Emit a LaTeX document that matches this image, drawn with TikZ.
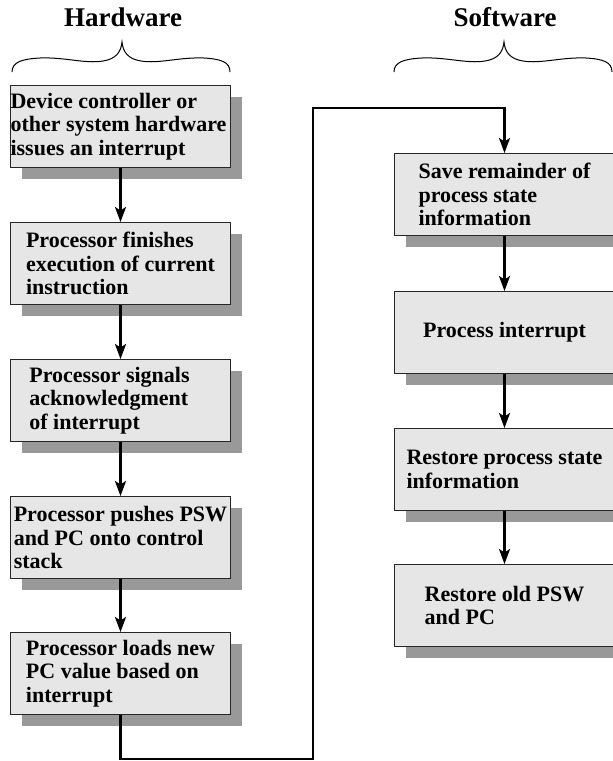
\documentclass[tikz,border=0pt]{standalone}
\usepackage{fontspec}
\setmainfont{Liberation Serif}
\usetikzlibrary{arrows.meta,shadows}
\definecolor{boxfill}{HTML}{E6E6E6}
\definecolor{shadowgray}{HTML}{999999}
\begin{document}
\begin{tikzpicture}[x=1pt,y=-1pt,
  box/.style={draw=black!85, line width=1pt, fill=boxfill, minimum width=220pt,
    minimum height=82pt, inner sep=0pt, anchor=north west,
    general shadow={fill=shadowgray, draw=none, shadow xshift=11pt, shadow yshift=-11pt}},
  txt/.style={font=\bfseries\fontsize{22}{23.5}\selectfont, align=left, inner sep=0pt},
  title/.style={font=\bfseries\fontsize{27}{30}\selectfont, inner sep=0pt},
  conn/.style={line width=2.4pt, -{Stealth[length=15pt,width=11pt,inset=3.5pt]}},
  bracestyle/.style={line width=1pt}]
\useasboundingbox (0,0) rectangle (613,761);

% titles
\node[title] (hw) at (123,17) {Hardware};
\node[title] (sw) at (505,17) {Software};

% braces
\draw[bracestyle] (12,72) .. controls (12,62) and (22,59) .. (40,58)
  .. controls (65,57) and (85,64) .. (103,61)
  .. controls (116,59) and (121,52) .. (122,42)
  .. controls (123,52) and (128,59) .. (141,61)
  .. controls (159,64) and (179,57) .. (204,58)
  .. controls (221,59) and (230,62) .. (230,72);
\begin{scope}[shift={(382,0)}]
\draw[bracestyle] (12,72) .. controls (12,62) and (22,59) .. (40,58)
  .. controls (65,57) and (85,64) .. (103,61)
  .. controls (116,59) and (121,52) .. (122,42)
  .. controls (123,52) and (128,59) .. (141,61)
  .. controls (159,64) and (179,57) .. (204,58)
  .. controls (221,59) and (230,62) .. (230,72);
\end{scope}

% hardware boxes
\node[box] (b1) at (10,85) {};
\node[box] (b2) at (10,222) {};
\node[box] (b3) at (10,359) {};
\node[box] (b4) at (10,496) {};
\node[box] (b5) at (10,632) {};
% software boxes
\node[box] (r1) at (394,153) {};
\node[box] (r2) at (394,291) {};
\node[box] (r3) at (394,428) {};
\node[box] (r4) at (394,564) {};

% texts
\node[txt] (t1) at ([xshift=-2pt]b1.center) {Device controller or\\other system hardware\\issues an interrupt};
\node[txt] (t2) at (b2.center) {Processor finishes\\execution of current\\instruction};
\node[txt] (t3) at ([xshift=-11pt]b3.center) {Processor signals\\acknowledgment\\of interrupt};
\node[txt] (t4) at (b4.center) {Processor pushes PSW\\and PC onto control\\stack};
\node[txt] (t5) at (b5.center) {Processor loads new\\PC value based on\\interrupt};
\node[txt] (s1) at (r1.center) {Save remainder of\\process state\\information};
\node[txt] (s2) at (r2.center) {Process interrupt};
\node[txt] (s3) at (r3.center) {Restore process state\\information};
\node[txt] (s4) at (r4.center) {Restore old PSW\\and PC};

% connectors
\draw[conn] (b1.south) -- (b2.north);
\draw[conn] (b2.south) -- (b3.north);
\draw[conn] (b3.south) -- (b4.north);
\draw[conn] (b4.south) -- (b5.north);
\draw[conn] (r1.south) -- (r2.north);
\draw[conn] (r2.south) -- (r3.north);
\draw[conn] (r3.south) -- (r4.north);
\coordinate (c1) at (313,759);
\coordinate (c2) at (313,108);
\draw[conn] (b5.south) |- (c1) -- (c2) -| (r1.north);
\end{tikzpicture}
\end{document}
